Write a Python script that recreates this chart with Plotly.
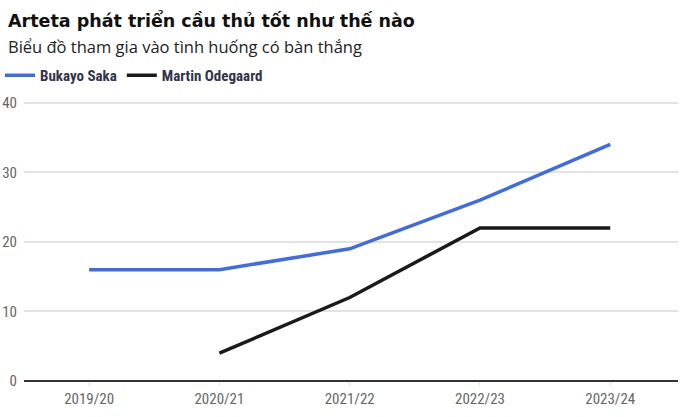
import plotly.graph_objects as go

seasons = ["2019/20", "2020/21", "2021/22", "2022/23", "2023/24"]
saka = [16, 16, 19, 26, 34]
odegaard = [None, 4, 12, 22, 22]
yticks = [0, 10, 20, 30, 40]

COND = "Liberation Sans Narrow, Roboto Condensed, sans-serif"

fig = go.Figure()
fig.add_trace(go.Scatter(x=seasons, y=saka, mode="lines", name="<b>Bukayo Saka</b>",
                         line=dict(color="#3f6be8", width=3.5)))
fig.add_trace(go.Scatter(x=seasons, y=odegaard, mode="lines", name="<b>Martin Odegaard</b>",
                         line=dict(color="#1a1a1a", width=3.5)))

fig.update_layout(
    width=680, height=417,
    margin=dict(l=22, r=2, t=96, b=36),
    paper_bgcolor="white", plot_bgcolor="white",
    showlegend=True,
    legend=dict(orientation="h", x=0.0, xref="container", xanchor="left",
                y=1 - 59 / 417, yref="container", yanchor="top",
                font=dict(family=COND, size=15, color="#33334a"),
                itemwidth=30, tracegroupgap=0,
                bgcolor="rgba(0,0,0,0)"),
    annotations=[
        dict(text="<b>Arteta phát triển cầu thủ tốt như thế nào</b>", xref="paper", yref="paper",
             x=-0.028, y=1.0, xanchor="left", yanchor="bottom", yshift=66, showarrow=False,
             font=dict(family="DejaVu Sans, sans-serif", size=17.5, color="#111")),
        dict(text="Biểu đồ tham gia vào tình huống có bàn thắng", xref="paper", yref="paper",
             x=-0.028, y=1.0, xanchor="left", yanchor="bottom", yshift=39, showarrow=False,
             font=dict(family="Open Sans, sans-serif", size=16.5, color="#222")),
    ],
)
fig.update_xaxes(type="category", range=[-0.5, 4.52], showgrid=False,
                 ticks="outside", ticklen=4, tickcolor="#e5e5e5",
                 tickfont=dict(family=COND, size=15, color="#666"),
                 showline=False, fixedrange=True)
fig.update_yaxes(range=[0, 40.5], tickvals=yticks, showgrid=True, gridcolor="#e3e3e3", gridwidth=1.5,
                 zeroline=True, zerolinecolor="#333", zerolinewidth=1.5,
                 tickfont=dict(family=COND, size=15, color="#666"),
                 ticks="", ticklabelstandoff=6)
fig.write_html("out.html")
